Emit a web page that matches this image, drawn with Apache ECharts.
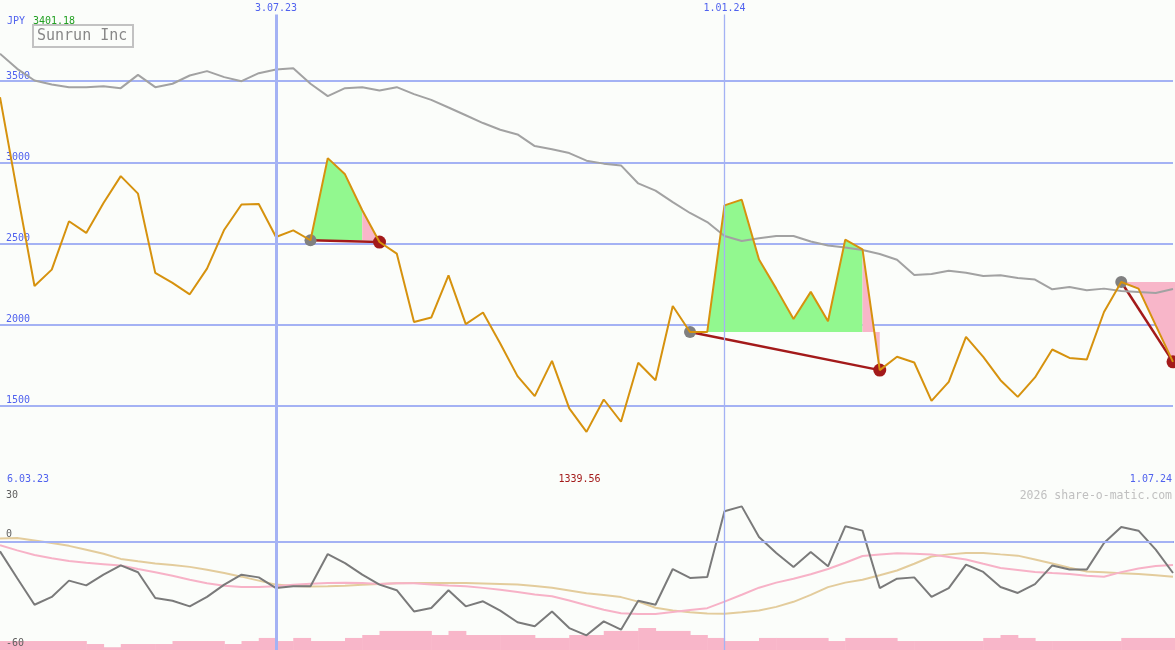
<!DOCTYPE html>
<html><head><meta charset="utf-8">
<script src="https://cdn.jsdelivr.net/npm/echarts@6/dist/echarts.min.js"></script>
<style>html,body{margin:0;padding:0;background:#fbfdfa}#c{width:1175px;height:650px}</style>
</head><body><div id="c"></div><script>
// ---------- data ----------
const currency = 'JPY';
const stockName = 'Sunrun Inc';
const copyright = '2026 share-o-matic.com';
const rangeLabels = ['6.03.23', '1.07.24'];
const markedDates = ['3.07.23', '1.01.24'];
const priceTicks = [1500, 2000, 2500, 3000, 3500];
const oscTicks = [30, 0, -60];

const price = [3401.18, 2815, 2238, 2339, 2637, 2565, 2749, 2915, 2807, 2319,
  2257, 2187, 2345, 2585, 2740, 2743, 2540, 2581, 2520, 3026,
  2926, 2705, 2509, 2438, 2017, 2044, 2304, 2003, 2075, 1884,
  1683, 1560, 1777, 1484, 1339.56, 1539, 1402, 1765, 1658, 2115,
  1955, 1955, 2735, 2770, 2401, 2222, 2035, 2202, 2021, 2524,
  2464, 1720, 1802, 1767, 1531, 1648, 1925, 1802, 1658, 1555,
  1675, 1847, 1795, 1785, 2078, 2263, 2222, 1996, 1771];

const movingAvg = [3669, 3576, 3504, 3480, 3463, 3462, 3468, 3457, 3539, 3463,
  3484, 3535, 3562, 3525, 3500, 3549, 3572, 3580, 3484, 3408,
  3457, 3463, 3443, 3463, 3420, 3385, 3338, 3290, 3242, 3201,
  3172, 3100, 3080, 3057, 3010, 2992, 2981, 2870, 2826, 2755,
  2688, 2632, 2546, 2515, 2532, 2546, 2546, 2512, 2488, 2476,
  2460, 2435, 2400, 2306, 2312, 2332, 2320, 2300, 2304, 2288,
  2278, 2218, 2232, 2212, 2222, 2208, 2201, 2195, 2220];

// trades: entry index, exit index, last index of the green part
const tradeEntry = [18, 40, 65];
const tradeExit = [22, 51, 68];
const tradeGreenEnd = [21, 50, 65];

const oscillator = [-5.5, -20.4, -35, -30.7, -21.7, -24.3, -18.4, -13.3, -17.1, -31.3,
  -32.8, -35.9, -30.7, -23.9, -18.4, -19.9, -25.8, -24.8, -24.8, -7,
  -12, -18.4, -23.9, -27, -38.7, -36.8, -27, -35.9, -33.1, -38.3,
  -44.7, -46.9, -38.7, -47.9, -51.9, -44.2, -48.8, -32.8, -35, -15.3,
  -20.2, -19.7, 16.6, 19.3, 2.4, -6.4, -14.2, -5.9, -13.8, 8.3,
  5.9, -25.8, -20.6, -19.9, -30.7, -25.8, -12.9, -16.9, -25.2, -28.5,
  -23.6, -13.3, -15.6, -15.6, -0.9, 7.9, 5.9, -4.6, -17.5];

const oscPink = [-2.2, -5, -7.5, -9.3, -10.9, -11.8, -12.6, -13.4, -15.3, -17.1,
  -19, -21.2, -23.2, -24.5, -25.2, -25.2, -24.8, -24, -23.4, -23,
  -22.8, -23, -23.5, -23.1, -23.2, -23.9, -24.4, -24.8, -25.7, -26.7,
  -28, -29.4, -30.3, -32.7, -35.3, -37.8, -39.7, -40.1, -40.1, -39,
  -37.9, -36.9, -33.3, -29.5, -25.6, -22.8, -20.7, -18.2, -15.3, -11.8,
  -8.1, -7.3, -6.6, -6.8, -7.3, -8.6, -10, -12.4, -14.7, -15.8,
  -16.9, -17.5, -18, -19, -19.6, -17, -15, -13.6, -13];

const oscTan = [1.5, 1.8, 0.5, -0.9, -2.5, -4.7, -6.9, -9.7, -11, -12.2,
  -13.1, -14.1, -15.7, -17.5, -19.5, -21.7, -23.9, -24.7, -25, -24.8,
  -24.5, -24, -23.6, -23.1, -23, -23, -23, -23, -23.3, -23.6,
  -23.9, -24.7, -25.6, -27.1, -28.7, -29.6, -30.8, -33.3, -36.7, -38.2,
  -39.2, -39.8, -40, -39.2, -38.2, -36.2, -33.4, -29.6, -25.3, -22.8,
  -21.2, -18.7, -16.1, -12.4, -8.4, -7.2, -6.4, -6.4, -7.2, -7.9,
  -10, -12.2, -14.6, -16.7, -17.1, -17.6, -18.1, -18.7, -19.6];

const volume = [5.5, 5.5, 5.5, 5.5, 5.5, 3.7, 1.7, 3.7, 3.7, 3.7,
  5.5, 5.5, 5.5, 3.7, 5.5, 7.4, 5.5, 7.4, 5.5, 5.5,
  7.4, 9.2, 11.7, 11.7, 11.7, 9.2, 11.7, 9.2, 9.2, 9.2,
  9.2, 7.4, 7.4, 9.2, 9.2, 11.7, 11.7, 13.5, 11.7, 11.7,
  9.2, 7.4, 5.5, 5.5, 7.4, 7.4, 7.4, 7.4, 5.5, 7.4,
  7.4, 7.4, 5.5, 5.5, 5.5, 5.5, 5.5, 7.4, 9.2, 7.4,
  5.5, 5.5, 5.5, 5.5, 5.5, 7.4, 7.4, 7.4, 7.4];

// weekly date categories (Mondays)
const startUTC = Date.UTC(2023, 2, 13);
const dates = price.map((_, i) => {
  const d = new Date(startUTC + i * 7 * 86400000);
  return d.getUTCDate() + '.' + String(d.getUTCMonth() + 1).padStart(2, '0') + '.' + String(d.getUTCFullYear()).slice(2);
});

// ---------- styles ----------
const FONT = 'DejaVu Sans Mono';
const BLUE = '#5062ee';
const GRID_BLUE = '#a4b2f4';
const BG = '#fbfdfa';
const DARKRED = '#a31a1a';
const GREEN_FILL = '#92f88f';
const PINK = '#f8b6c9';

const maxVal = Math.max(...price);
const minVal = Math.min(...price);
const minIdx = price.indexOf(minVal);

const chart = echarts.init(document.getElementById('c'), null, {renderer: 'canvas'});

const trades = tradeEntry.map((e, k) => [e, tradeExit[k], tradeGreenEnd[k]]);

function renderFill(params, api) {
  const e = api.value(0), x = api.value(1), g = api.value(2);
  const base = price[e];
  const children = [];
  const poly = (from, to, color, extend) => {
    const pts = [];
    for (let i = from; i <= to; i++) pts.push(api.coord([i, price[i]]));
    if (extend) {
      const last = pts[pts.length - 1];
      pts.push([last[0] + 3, last[1]]);
      pts.push([last[0] + 3, api.coord([to, base])[1]]);
    } else {
      pts.push(api.coord([to, base]));
    }
    pts.push(api.coord([from, base]));
    children.push({type: 'polygon', shape: {points: pts}, style: {fill: color}});
  };
  if (g > e) poly(e, g, GREEN_FILL, false);
  poly(g, x, PINK, x === price.length - 1);
  return {type: 'group', children};
}

function renderTrade(params, api) {
  const e = api.value(0), x = api.value(1);
  const p0 = api.coord([e, price[e]]);
  const p1 = api.coord([x, price[x]]);
  return {type: 'group', children: [
    {type: 'line', shape: {x1: p0[0], y1: p0[1], x2: p1[0], y2: p1[1]}, style: {stroke: DARKRED, lineWidth: 2.5}},
    {type: 'circle', shape: {cx: p0[0], cy: p0[1], r: 6}, style: {fill: '#808080'}},
    {type: 'circle', shape: {cx: p1[0], cy: p1[1], r: 6.5}, style: {fill: DARKRED}}
  ]};
}

function renderVolume(params, api) {
  const j = api.value(0), v = api.value(1);
  const a = api.coord([j, v]);
  const b = api.coord([j + 1, 0]);
  return {type: 'rect', shape: {x: a[0], y: a[1], width: b[0] - a[0] + 0.6, height: b[1] - a[1]}, style: {fill: PINK}};
}

const vMarkMain = markedDates.map((d, k) => [
  {xAxis: d, yAxis: 3910, lineStyle: {width: k === 0 ? 3 : 1.3}},
  {xAxis: d, yAxis: 1000}
]);
const vMarkBottom = markedDates.map((d, k) => [
  {xAxis: d, yAxis: 30, lineStyle: {width: k === 0 ? 3 : 1.3}},
  {xAxis: d, yAxis: -60}
]);

const option = {
  backgroundColor: BG,
  animation: false,
  grid: [
    {left: 0, right: 2, top: 0, height: 487},
    {left: 0, right: 2, top: 487, height: 163}
  ],
  xAxis: [
    {type: 'category', gridIndex: 0, data: dates, boundaryGap: false, position: 'top',
      axisLine: {show: false}, axisTick: {show: false}, splitLine: {show: false},
      axisLabel: {inside: true, margin: 3, color: BLUE, fontFamily: FONT, fontSize: 10,
        interval: (idx, val) => markedDates.includes(val)}},
    {type: 'category', gridIndex: 1, data: dates, boundaryGap: false, position: 'top',
      axisLine: {show: true, lineStyle: {color: '#7383ea', width: 2}}, axisTick: {show: false},
      axisLabel: {show: false}, splitLine: {show: false}}
  ],
  yAxis: [
    {type: 'value', gridIndex: 0, min: 1000, max: 4000, interval: 500, position: 'left',
      axisLine: {show: false}, axisTick: {show: false},
      axisLabel: {inside: true, margin: 6, color: BLUE, fontFamily: FONT, fontSize: 10, verticalAlign: 'bottom',
        formatter: v => priceTicks.includes(v) ? String(v) : ''},
      splitLine: {show: true, showMinLine: false, showMaxLine: false, lineStyle: {color: GRID_BLUE, width: 2}}},
    {type: 'value', gridIndex: 1, min: -60, max: 30, interval: 30, position: 'left', z: 10,
      axisLine: {show: false}, axisTick: {show: false}, splitLine: {show: false},
      axisLabel: {inside: true, margin: 6, color: '#606060', fontFamily: FONT, fontSize: 10, verticalAlign: 'bottom',
        padding: [0, 0, 2, 0],
        formatter: v => (oscTicks.includes(v) && v !== oscTicks[0]) ? String(v) : ''}},
    {type: 'value', gridIndex: 1, min: -60, max: 30, interval: 30, position: 'left', z: 10,
      axisLine: {show: false}, axisTick: {show: false}, splitLine: {show: false},
      axisLabel: {inside: true, margin: 6, color: '#606060', fontFamily: FONT, fontSize: 10, verticalAlign: 'top',
        padding: [3, 0, 0, 0],
        formatter: v => v === oscTicks[0] ? String(v) : ''}},
    {type: 'value', gridIndex: 1, min: 0, max: 100, show: false}
  ],
  series: [
    {type: 'line', xAxisIndex: 0, yAxisIndex: 0, data: price, symbol: 'none', silent: true,
      lineStyle: {opacity: 0},
      markLine: {symbol: 'none', silent: true, label: {show: false},
        lineStyle: {color: GRID_BLUE, type: 'solid'}, data: vMarkMain}},
    {type: 'custom', xAxisIndex: 0, yAxisIndex: 0, data: trades, renderItem: renderFill, silent: true},
    {type: 'line', xAxisIndex: 0, yAxisIndex: 0, data: movingAvg, symbol: 'none', silent: true,
      lineStyle: {color: '#a2a2a2', width: 2}},
    {type: 'custom', xAxisIndex: 0, yAxisIndex: 0, data: trades, renderItem: renderTrade, silent: true},
    {type: 'line', xAxisIndex: 0, yAxisIndex: 0, data: price, symbol: 'none', silent: true,
      lineStyle: {color: '#d6920e', width: 2}},

    {type: 'line', xAxisIndex: 1, yAxisIndex: 1, data: oscillator, symbol: 'none', silent: true,
      lineStyle: {opacity: 0},
      markLine: {symbol: 'none', silent: true, label: {show: false},
        lineStyle: {color: GRID_BLUE, type: 'solid', width: 2},
        data: [{yAxis: 0}].concat(vMarkBottom)}},
    {type: 'line', xAxisIndex: 1, yAxisIndex: 1, data: oscTan, symbol: 'none', silent: true,
      lineStyle: {color: '#e3cc9c', width: 2}},
    {type: 'line', xAxisIndex: 1, yAxisIndex: 1, data: oscPink, symbol: 'none', silent: true,
      lineStyle: {color: '#f7b2c7', width: 2}},
    {type: 'line', xAxisIndex: 1, yAxisIndex: 1, data: oscillator, symbol: 'none', silent: true,
      lineStyle: {color: '#7a7a7a', width: 2}},
    {type: 'custom', xAxisIndex: 1, yAxisIndex: 3, data: volume.map((v, j) => [j, v]),
      renderItem: renderVolume, silent: true}
  ]
};
chart.setOption(option);

const minX = chart.convertToPixel({xAxisIndex: 0}, minIdx);
const txt = (x, y, text, fill, size, align) => ({
  type: 'text', x, y, silent: true, z: 100,
  style: {text, fill, font: size + 'px "' + FONT + '"', align, textAlign: align,
    verticalAlign: 'middle', textVerticalAlign: 'middle'}
});
chart.setOption({
  graphic: [
    txt(7, 21, currency, BLUE, 10, 'left'),
    txt(33, 21, maxVal.toFixed(2), '#22a022', 10, 'left'),
    {type: 'rect', silent: true, shape: {x: 33, y: 25, width: 100, height: 22},
      style: {fill: BG, stroke: '#c2c2c2', lineWidth: 2}},
    txt(37, 36.5, stockName, '#888888', 15, 'left'),
    txt(7, 479, rangeLabels[0], BLUE, 10, 'left'),
    txt(1172, 479, rangeLabels[1], BLUE, 10, 'right'),
    txt(minX - 7, 479, minVal.toFixed(2), DARKRED, 10, 'center'),
    txt(1172, 496, copyright, '#c0c0c0', 11.5, 'right')
  ]
});
</script></body></html>
